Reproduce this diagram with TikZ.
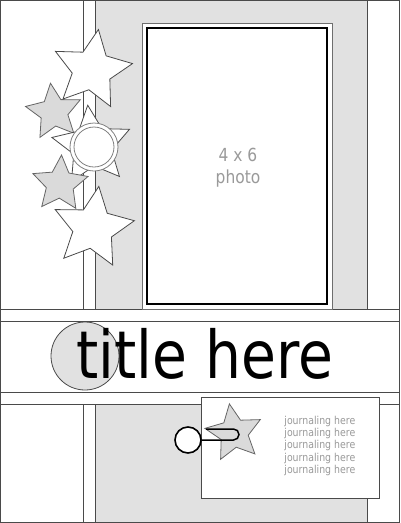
\documentclass[tikz,border=0pt]{standalone}
\usepackage{fontspec}
\setmainfont{DejaVu Sans}[FakeStretch=0.86]
\usetikzlibrary{shapes.geometric}
\definecolor{stripgrey}{HTML}{E1E1E1}
\definecolor{stargrey}{HTML}{DADADA}
\definecolor{linegrey}{HTML}{4A4A4A}
\definecolor{textgrey}{HTML}{9A9A9A}
\begin{document}
\begin{tikzpicture}[x=1pt,y=-1pt,line width=0.8pt]
\tikzset{
  whitestar/.style={star,star points=5,star point ratio=2.05,draw=linegrey,fill=white,inner sep=0pt,minimum size=#1},
  greystar/.style={whitestar=#1,fill=stargrey,draw=linegrey!85},
  box/.style={rectangle,draw=linegrey,fill=white,inner sep=0pt},
  ring/.style={circle,draw=linegrey!70,inner sep=0pt,minimum size=#1}
}
\useasboundingbox (0,0) rectangle (400,523);
\fill[white] (0,0) rectangle (400,523);
\fill[stripgrey] (95,0) rectangle (367,309);
\fill[stripgrey] (95,404) rectangle (367,523);
\draw[linegrey] (83,0) -- (83,309) (95,0) -- (95,309) (367,0) -- (367,309);
\draw[linegrey] (83,404) -- (83,523) (95,404) -- (95,523) (367,404) -- (367,523);
\draw[linegrey] (0,309) -- (400,309) (0,321) -- (400,321) (0,392) -- (400,392) (0,404) -- (400,404);
\draw[linegrey] (0.5,0.5) rectangle (399.5,522.5);
% photo mat
\node[box,draw=linegrey!80,minimum width=190pt,minimum height=286pt] (mat) at (237,166) {};
\node[box,draw=black,line width=1.2pt,minimum width=180pt,minimum height=276pt] (photo) at (237,166) {};
\node[anchor=base,text=textgrey,font=\fontsize{18}{22}\selectfont] (size) at (238,161) {4 x 6};
\node[anchor=base,text=textgrey,font=\fontsize{18}{22}\selectfont] (caption) at (238,183) {photo};
% stars down the left strip
\node[whitestar=82pt,rotate=-9] (star1) at (92,70) {};
\node[greystar=58pt,rotate=7] (star2) at (54,112) {};
\node[whitestar=82pt,rotate=6] (star3) at (92,146) {};
\node[ring=48pt,fill=white] (ring) at (94,147) {};
\node[ring=40pt] (disc) at (94,147) {};
\node[greystar=58pt,rotate=-3] (star4) at (60,184) {};
\node[whitestar=84pt,rotate=-8] (star5) at (93,228) {};
% title band
\node[circle,draw=linegrey,fill=stripgrey,inner sep=0pt,minimum size=68pt] (dot) at (85,356) {};
\node[anchor=base west,inner sep=0pt,font=\fontsize{66}{70}\selectfont] (title) at (76,378) {title here};
% journaling tag
\node[box,anchor=north west,minimum width=178pt,minimum height=101pt] (tag) at (201,397) {};
\node[greystar=59pt,rotate=9] (tagstar) at (234,433) {};
\node[anchor=north west,inner sep=0pt,align=left,text=textgrey,font=\fontsize{10.9}{12.25}\selectfont] (journal) at (284,415.7)
  {journaling here\\journaling here\\journaling here\\journaling here\\journaling here};
\node[circle,draw=black,line width=1.6pt,fill=white,inner sep=0pt,minimum size=26pt] (brad) at (188,440) {};
\coordinate (pintip) at (206,429);
\draw[black,line width=1.5pt,rounded corners=5.5pt] (brad.east) -| (239,429) -- (pintip);
\end{tikzpicture}
\end{document}
